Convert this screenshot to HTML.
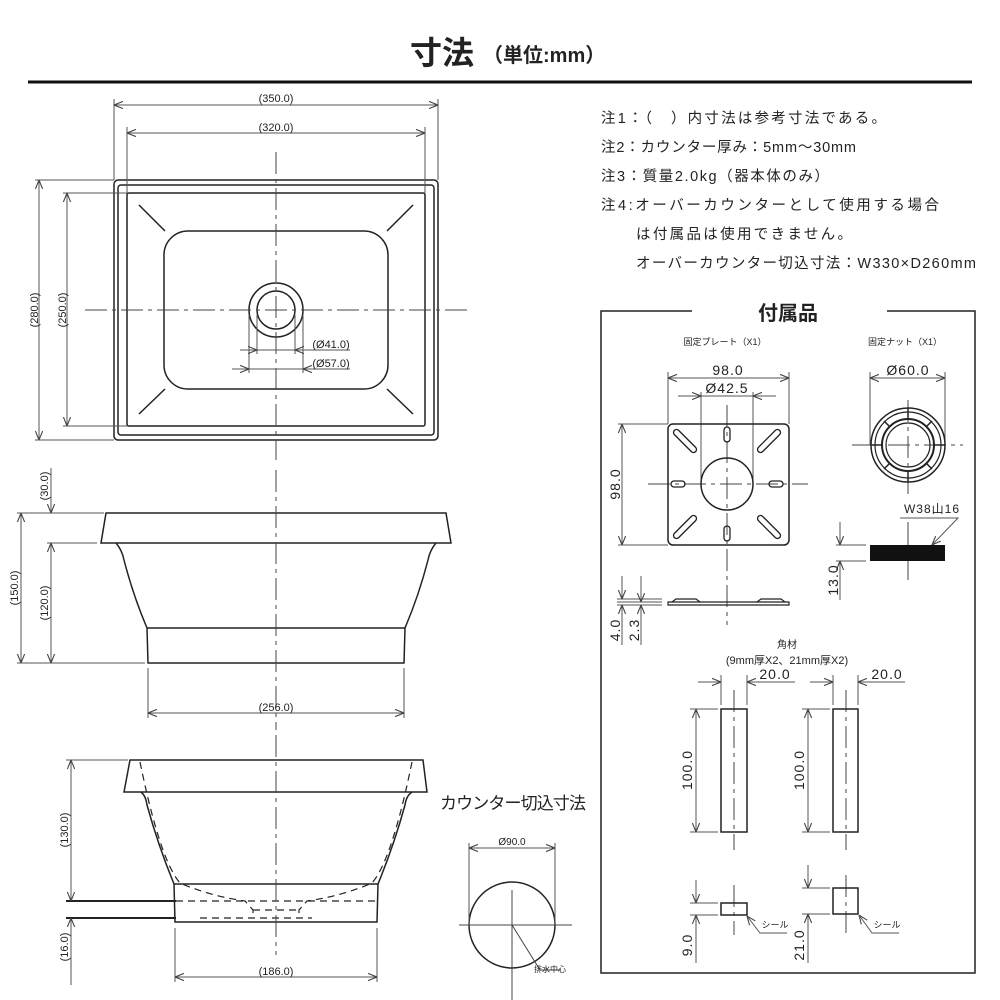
<!DOCTYPE html>
<html><head><meta charset="utf-8"><style>
html,body{margin:0;padding:0;background:#fff;}
svg{display:block;}
text{font-family:"Liberation Sans","Noto Sans CJK JP",sans-serif;fill:#222;}
.d{font-family:"Liberation Mono","Noto Sans CJK JP",monospace;font-size:11px;fill:#333;}
.D{font-family:"Liberation Mono","Noto Sans CJK JP",monospace;font-size:14px;fill:#333;letter-spacing:1px;}
</style></head><body>
<svg width="1000" height="1000" viewBox="0 0 1000 1000" xmlns="http://www.w3.org/2000/svg">
<defs>
<marker id="a" viewBox="0 0 10 10" refX="10" refY="5" markerWidth="9" markerHeight="9" orient="auto-start-reverse" markerUnits="userSpaceOnUse"><path d="M0,1 L10,5 L0,9" fill="none" stroke="#444" stroke-width="1.2"/></marker>
</defs>
<text x="410" y="64" font-size="32" font-weight="bold" fill="#111">寸法</text>
<text x="483" y="62" font-size="20" font-weight="bold" fill="#111">（単位:mm）</text>
<line x1="28" y1="82" x2="972" y2="82" stroke="#111" stroke-width="3"/>

<g fill="none" stroke="#222" stroke-width="1.5">
<rect x="114" y="180" width="324" height="260" rx="4"/>
<rect x="118" y="185" width="316" height="250" rx="3"/>
<rect x="127" y="193" width="298" height="233" rx="2"/>
<rect x="164" y="231" width="224" height="158" rx="24"/>
<circle cx="276" cy="310" r="27"/>
<circle cx="276" cy="310" r="19"/>
<line x1="139" y1="205" x2="165" y2="231"/><line x1="413" y1="205" x2="387" y2="231"/>
<line x1="139" y1="414" x2="165" y2="389"/><line x1="413" y1="414" x2="387" y2="389"/>
<path d="M106,513 L446,513 L451,543 L101,543 Z"/>
<path d="M116,543 Q122,550 124,560 Q133,595 147,628 L148,663 L404,663 L405,628 Q419,595 428,560 Q430,550 436,543"/>
<line x1="147" y1="628" x2="405" y2="628"/>
<path d="M130,760 L423,760 L427,792 L124,792 Z"/>
<path d="M141,792 Q146,796 147,805 Q158,845 174,884 L175,922 L377,922 L378,884 Q394,845 405,805 Q406,796 412,792"/>
<line x1="174" y1="884" x2="378" y2="884"/>
<line x1="66" y1="901" x2="176" y2="901" stroke-width="2"/>
<line x1="66" y1="918" x2="176" y2="918" stroke-width="2"/>
<g stroke-dasharray="7,5" stroke-width="1.2">
<path d="M140,762 Q160,860 180,883 Q210,896 245,901 L253,910 L253,918"/>
<path d="M412,762 Q392,860 372,883 Q342,896 307,901 L299,910 L299,918"/>
<line x1="176" y1="901" x2="376" y2="901"/>
<line x1="253" y1="910" x2="299" y2="910"/>
<line x1="200" y1="918" x2="312" y2="918"/>
</g>
<circle cx="512" cy="925" r="43"/>
</g>

<g stroke="#444" stroke-width="1" stroke-dasharray="22,5,4,5" fill="none">
<line x1="276" y1="152" x2="276" y2="460"/>
<line x1="85" y1="310" x2="468" y2="310"/>
<line x1="276" y1="470" x2="276" y2="730"/>
<line x1="276" y1="735" x2="276" y2="955"/>
<line x1="727" y1="405" x2="727" y2="625"/>
<line x1="648" y1="484" x2="808" y2="484"/>
<line x1="852" y1="445" x2="963" y2="445"/>
<line x1="908" y1="400" x2="908" y2="495"/>
<line x1="734" y1="690" x2="734" y2="850"/>
<line x1="846" y1="690" x2="846" y2="850"/>
<line x1="734" y1="885" x2="734" y2="935"/>
<line x1="846" y1="875" x2="846" y2="935"/>
</g>
<g stroke="#444" stroke-width="1" fill="none">
<line x1="512" y1="890" x2="512" y2="1000"/>
<line x1="459" y1="925" x2="572" y2="925"/>
<line x1="908" y1="522" x2="908" y2="580"/>
<polyline points="512,925 540,970 560,970"/>
</g>

<g stroke="#555" stroke-width="1" fill="none">
<line x1="114" y1="99" x2="114" y2="180"/><line x1="438" y1="99" x2="438" y2="180"/>
<line x1="127" y1="127" x2="127" y2="193"/><line x1="425" y1="127" x2="425" y2="193"/>
<line x1="35" y1="180" x2="114" y2="180"/><line x1="35" y1="440" x2="114" y2="440"/>
<line x1="63" y1="193" x2="127" y2="193"/><line x1="63" y1="426" x2="127" y2="426"/>
<line x1="257" y1="315" x2="257" y2="354"/><line x1="295" y1="315" x2="295" y2="354"/>
<line x1="249" y1="315" x2="249" y2="373"/><line x1="303" y1="315" x2="303" y2="373"/>
<line x1="114" y1="105" x2="438" y2="105" marker-start="url(#a)" marker-end="url(#a)"/>
<line x1="127" y1="133" x2="425" y2="133" marker-start="url(#a)" marker-end="url(#a)"/>
<line x1="39" y1="180" x2="39" y2="440" marker-start="url(#a)" marker-end="url(#a)"/>
<line x1="67" y1="193" x2="67" y2="426" marker-start="url(#a)" marker-end="url(#a)"/>
<line x1="240" y1="350" x2="257" y2="350" marker-end="url(#a)"/><line x1="312" y1="350" x2="295" y2="350" marker-end="url(#a)"/><line x1="257" y1="350" x2="295" y2="350"/>
<line x1="232" y1="369" x2="249" y2="369" marker-end="url(#a)"/><line x1="320" y1="369" x2="303" y2="369" marker-end="url(#a)"/><line x1="249" y1="369" x2="303" y2="369"/>
<line x1="312" y1="350" x2="350" y2="350"/><line x1="320" y1="369" x2="350" y2="369"/>
<line x1="17" y1="513" x2="104" y2="513"/><line x1="47" y1="543" x2="97" y2="543"/><line x1="17" y1="663" x2="145" y2="663"/>
<line x1="21" y1="513" x2="21" y2="663" marker-start="url(#a)" marker-end="url(#a)"/>
<line x1="51" y1="543" x2="51" y2="663" marker-start="url(#a)" marker-end="url(#a)"/>
<line x1="51" y1="468" x2="51" y2="513" marker-end="url(#a)"/>
<line x1="148" y1="668" x2="148" y2="718"/><line x1="404" y1="668" x2="404" y2="718"/>
<line x1="148" y1="713" x2="404" y2="713" marker-start="url(#a)" marker-end="url(#a)"/>
<line x1="66" y1="760" x2="128" y2="760"/>
<line x1="71" y1="760" x2="71" y2="901" marker-start="url(#a)" marker-end="url(#a)"/>
<line x1="71" y1="985" x2="71" y2="918" marker-end="url(#a)"/>
<line x1="175" y1="928" x2="175" y2="982"/><line x1="377" y1="928" x2="377" y2="982"/>
<line x1="175" y1="977" x2="377" y2="977" marker-start="url(#a)" marker-end="url(#a)"/>
<line x1="469" y1="843" x2="469" y2="925"/><line x1="555" y1="843" x2="555" y2="925"/>
<line x1="469" y1="848" x2="555" y2="848" marker-start="url(#a)" marker-end="url(#a)"/>
<line x1="668" y1="372" x2="668" y2="424"/><line x1="789" y1="372" x2="789" y2="424"/>
<line x1="668" y1="378" x2="789" y2="378" marker-start="url(#a)" marker-end="url(#a)"/>
<line x1="701" y1="392" x2="701" y2="484"/><line x1="753" y1="392" x2="753" y2="484"/>
<line x1="678" y1="396" x2="701" y2="396" marker-end="url(#a)"/><line x1="776" y1="396" x2="753" y2="396" marker-end="url(#a)"/><line x1="701" y1="396" x2="753" y2="396"/>
<line x1="618" y1="424" x2="668" y2="424"/><line x1="618" y1="545" x2="668" y2="545"/>
<line x1="622" y1="424" x2="622" y2="545" marker-start="url(#a)" marker-end="url(#a)"/>
<line x1="617" y1="599" x2="662" y2="599"/><line x1="617" y1="602" x2="662" y2="602"/><line x1="617" y1="605" x2="662" y2="605"/>
<line x1="622" y1="576" x2="622" y2="599" marker-end="url(#a)"/><line x1="622" y1="645" x2="622" y2="605" marker-end="url(#a)"/>
<line x1="641" y1="576" x2="641" y2="602" marker-end="url(#a)"/><line x1="641" y1="645" x2="641" y2="605" marker-end="url(#a)"/>
<line x1="870" y1="372" x2="870" y2="445"/><line x1="945" y1="372" x2="945" y2="445"/>
<line x1="870" y1="378" x2="945" y2="378" marker-start="url(#a)" marker-end="url(#a)"/>
<polyline points="900,518 958,518 932,545" marker-end="url(#a)"/>
<line x1="836" y1="545" x2="866" y2="545"/><line x1="836" y1="561" x2="866" y2="561"/>
<line x1="840" y1="522" x2="840" y2="545" marker-end="url(#a)"/><line x1="840" y1="600" x2="840" y2="561" marker-end="url(#a)"/>
<line x1="721" y1="675" x2="721" y2="705"/><line x1="747" y1="675" x2="747" y2="705"/>
<line x1="698" y1="682" x2="721" y2="682" marker-end="url(#a)"/><line x1="795" y1="682" x2="747" y2="682" marker-end="url(#a)"/>
<line x1="833" y1="675" x2="833" y2="705"/><line x1="858" y1="675" x2="858" y2="705"/>
<line x1="810" y1="682" x2="833" y2="682" marker-end="url(#a)"/><line x1="905" y1="682" x2="858" y2="682" marker-end="url(#a)"/>
<line x1="690" y1="709" x2="718" y2="709"/><line x1="690" y1="832" x2="718" y2="832"/>
<line x1="696" y1="709" x2="696" y2="832" marker-start="url(#a)" marker-end="url(#a)"/>
<line x1="802" y1="709" x2="830" y2="709"/><line x1="802" y1="832" x2="830" y2="832"/>
<line x1="808" y1="709" x2="808" y2="832" marker-start="url(#a)" marker-end="url(#a)"/>
<line x1="690" y1="903" x2="718" y2="903"/><line x1="690" y1="915" x2="718" y2="915"/>
<line x1="696" y1="880" x2="696" y2="903" marker-end="url(#a)"/><line x1="696" y1="963" x2="696" y2="915" marker-end="url(#a)"/>
<line x1="802" y1="888" x2="830" y2="888"/><line x1="802" y1="914" x2="830" y2="914"/>
<line x1="808" y1="865" x2="808" y2="888" marker-end="url(#a)"/><line x1="808" y1="963" x2="808" y2="914" marker-end="url(#a)"/>
<polyline points="787,933 760,933 747,916" marker-end="url(#a)"/>
<polyline points="899,933 872,933 859,915" marker-end="url(#a)"/>
</g>

<g fill="none" stroke="#222" stroke-width="1.5">
<polyline points="692,311 601,311 601,973 975,973 975,311 887,311"/>
<rect x="668" y="424" width="121" height="121" rx="5"/>
<circle cx="727" cy="484" r="26"/>
<g stroke-width="1.3">
<rect x="724" y="427" width="6" height="15" rx="3"/><rect x="724" y="526" width="6" height="15" rx="3"/>
<rect x="671" y="481" width="14" height="6" rx="3"/><rect x="769" y="481" width="14" height="6" rx="3"/>
<g transform="rotate(45 685 441)"><rect x="670" y="438" width="30" height="6" rx="3"/></g>
<g transform="rotate(-45 769 441)"><rect x="754" y="438" width="30" height="6" rx="3"/></g>
<g transform="rotate(-45 685 527)"><rect x="670" y="524" width="30" height="6" rx="3"/></g>
<g transform="rotate(45 769 527)"><rect x="754" y="524" width="30" height="6" rx="3"/></g>
</g>
<path d="M668,602 L789,602 L789,605 L668,605 Z" stroke-width="1.2"/>
<path d="M672,602 L676,599 L696,599 L700,602 M757,602 L761,599 L781,599 L785,602" stroke-width="1.2"/>
<circle cx="908" cy="445" r="37"/>
<circle cx="908" cy="445" r="33" stroke-width="1.2"/>
<circle cx="908" cy="445" r="26" stroke-width="2"/>
<circle cx="908" cy="445" r="22" stroke-width="1.2"/>
<g stroke-width="1.5">
<line x1="908" y1="408" x2="908" y2="419"/><line x1="908" y1="471" x2="908" y2="482"/>
<line x1="871" y1="445" x2="882" y2="445"/><line x1="934" y1="445" x2="945" y2="445"/>
<line x1="884" y1="421" x2="889" y2="426"/><line x1="932" y1="421" x2="927" y2="426"/>
<line x1="884" y1="469" x2="889" y2="464"/><line x1="932" y1="469" x2="927" y2="464"/>
</g>
<rect x="721" y="709" width="26" height="123"/>
<rect x="833" y="709" width="25" height="123"/>
<rect x="721" y="903" width="26" height="12"/>
<rect x="833" y="888" width="25" height="26"/>
</g>
<rect x="870" y="545" width="75" height="16" fill="#111"/>

<g class="d" text-anchor="middle">
<text x="276" y="102">(350.0)</text>
<text x="276" y="131">(320.0)</text>
<text x="331" y="348">(Ø41.0)</text>
<text x="331" y="367">(Ø57.0)</text>
<text x="276" y="711">(256.0)</text>
<text x="276" y="975">(186.0)</text>
<text x="512" y="845" font-size="10">Ø90.0</text>
<text transform="translate(38,310) rotate(-90)">(280.0)</text>
<text transform="translate(66,310) rotate(-90)">(250.0)</text>
<text transform="translate(48,486) rotate(-90)">(30.0)</text>
<text transform="translate(18,588) rotate(-90)">(150.0)</text>
<text transform="translate(48,603) rotate(-90)">(120.0)</text>
<text transform="translate(68,830) rotate(-90)">(130.0)</text>
<text transform="translate(68,947) rotate(-90)">(16.0)</text>
</g>
<g class="D" text-anchor="middle">
<text x="728" y="375">98.0</text>
<text x="727" y="393">Ø42.5</text>
<text x="908" y="375">Ø60.0</text>
<text x="932" y="513" font-size="12">W38山16</text>
<text x="775" y="679">20.0</text>
<text x="887" y="679">20.0</text>
<text transform="translate(620,484) rotate(-90)">98.0</text>
<text transform="translate(620,630) rotate(-90)">4.0</text>
<text transform="translate(639,630) rotate(-90)">2.3</text>
<text transform="translate(838,580) rotate(-90)">13.0</text>
<text transform="translate(692,770) rotate(-90)">100.0</text>
<text transform="translate(804,770) rotate(-90)">100.0</text>
<text transform="translate(692,945) rotate(-90)">9.0</text>
<text transform="translate(804,945) rotate(-90)">21.0</text>
</g>
<g font-size="9" text-anchor="middle">
<text x="725" y="345">固定プレート（X1）</text>
<text x="905" y="345">固定ナット（X1）</text>
<text x="787" y="648" font-size="10">角材</text>
<text x="787" y="664" font-size="11">(9mm厚X2、21mm厚X2)</text>
<text x="775" y="928">シール</text>
<text x="887" y="928">シール</text>
<text x="550" y="972" font-size="8">排水中心</text>
</g>
<text x="788" y="320" font-size="20" font-weight="bold" text-anchor="middle" fill="#111">付属品</text>
<text x="440" y="809" font-size="17" fill="#555" textLength="146">カウンター切込寸法</text>
<g font-size="14.5" fill="#222">
<text x="601" y="123" textLength="285">注1：（　）内寸法は参考寸法である。</text>
<text x="601" y="152" textLength="255">注2：カウンター厚み：5mm〜30mm</text>
<text x="601" y="181" textLength="228">注3：質量2.0kg（器本体のみ）</text>
<text x="601" y="210" textLength="338">注4:オーバーカウンターとして使用する場合</text>
<text x="636" y="239" textLength="216">は付属品は使用できません。</text>
<text x="636" y="268" textLength="340">オーバーカウンター切込寸法：W330×D260mm</text>
</g>
</svg>
</body></html>
